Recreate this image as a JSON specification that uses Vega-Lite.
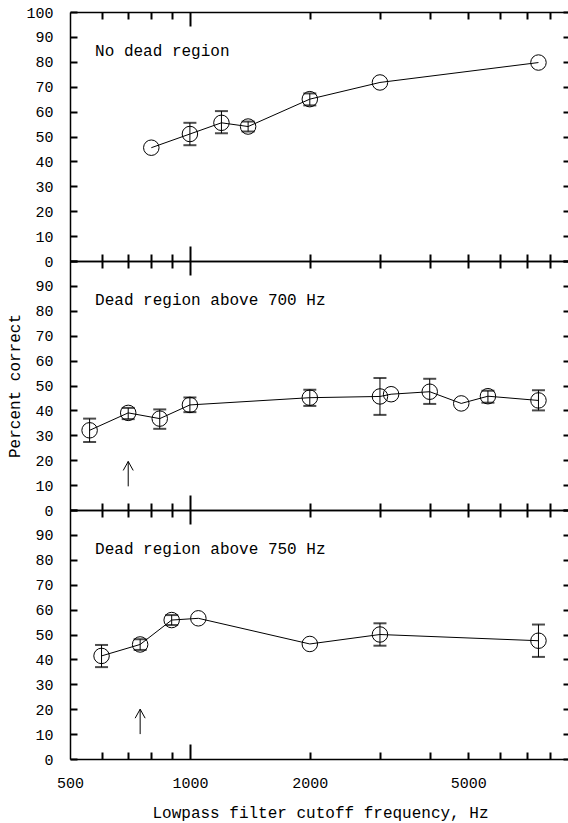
{
  "$schema": "https://vega.github.io/schema/vega-lite/v6.json",
  "background": "white",
  "padding": {"left": 6, "top": 5, "right": 0, "bottom": 5},
  "config": {
    "view": {"stroke": null},
    "font": "Liberation Mono",
    "axis": {"labelFont": "Liberation Mono", "titleFont": "Liberation Mono", "labelColor": "black", "titleColor": "black", "domainColor": "black", "tickColor": "black", "grid": false, "titleFontWeight": "normal"}
  },
  "datasets": {
    "pts": [
      {"panel": 1, "freq": 800, "pc": 45.5},
      {"panel": 1, "freq": 1000, "pc": 51, "lo": 46.5, "hi": 55.5},
      {"panel": 1, "freq": 1200, "pc": 55.5, "lo": 51.3, "hi": 60.2},
      {"panel": 1, "freq": 1400, "pc": 54, "lo": 52, "hi": 56},
      {"panel": 1, "freq": 2000, "pc": 65, "lo": 62.5, "hi": 67.3},
      {"panel": 1, "freq": 3000, "pc": 71.7},
      {"panel": 1, "freq": 7500, "pc": 79.7},
      {"panel": 2, "freq": 560, "pc": 32, "lo": 27.3, "hi": 36.7},
      {"panel": 2, "freq": 700, "pc": 39, "lo": 36.5, "hi": 41},
      {"panel": 2, "freq": 840, "pc": 36.7, "lo": 32.6, "hi": 40.4},
      {"panel": 2, "freq": 1000, "pc": 42.2, "lo": 39.3, "hi": 45.2},
      {"panel": 2, "freq": 2000, "pc": 45.1, "lo": 41.8, "hi": 48.3},
      {"panel": 2, "freq": 3000, "pc": 45.6, "lo": 38.2, "hi": 53},
      {"panel": 2, "freq": 3200, "pc": 46.5},
      {"panel": 2, "freq": 4000, "pc": 47.5, "lo": 42.6, "hi": 52.7},
      {"panel": 2, "freq": 4800, "pc": 42.8},
      {"panel": 2, "freq": 5600, "pc": 45.7, "lo": 43.1, "hi": 47.9},
      {"panel": 2, "freq": 7500, "pc": 44, "lo": 40, "hi": 48.1},
      {"panel": 3, "freq": 600, "pc": 41.4, "lo": 36.9, "hi": 45.8},
      {"panel": 3, "freq": 750, "pc": 46, "lo": 43.8, "hi": 48.1},
      {"panel": 3, "freq": 900, "pc": 55.8, "lo": 53.8, "hi": 57.8},
      {"panel": 3, "freq": 1050, "pc": 56.5},
      {"panel": 3, "freq": 2000, "pc": 46.2},
      {"panel": 3, "freq": 3000, "pc": 50, "lo": 45.5, "hi": 54.5},
      {"panel": 3, "freq": 7500, "pc": 47.5, "lo": 41, "hi": 54}
    ],
    "labels": [
      {"panel": 1, "freq": 578, "pc": 84.3, "text": "No dead region"},
      {"panel": 2, "freq": 578, "pc": 84.2, "text": "Dead region above 700 Hz"},
      {"panel": 3, "freq": 578, "pc": 84.4, "text": "Dead region above 750 Hz"}
    ],
    "arrows": [
      {"panel": 2, "freq": 700, "lo": 9.5, "hi": 19.5},
      {"panel": 3, "freq": 750, "lo": 10, "hi": 20}
    ]
  },
  "vconcat": [
    {
      "width": 500, "height": 249,
      "resolve": {"axis": {"x": "independent", "y": "independent"}},
      "layer": [
        {
          "data": {"name": "pts"},
          "transform": [{"filter": "datum.panel == 1 && isValid(datum.lo)"}],
          "mark": {"type": "rule", "color": "black", "strokeWidth": 1},
          "encoding": {
            "x": {"field": "freq", "type": "quantitative", "scale": {"type": "log", "domain": [500, 9000], "nice": false},
                  "axis": {"orient": "bottom", "values": [600, 700, 800, 900, 1000, 2000, 3000, 4000, 5000, 6000, 7000, 8000], "labels": false, "title": null, "domainWidth": 1.5, "tickWidth": 2, "tickSize": {"condition": {"test": "datum.value == 1000", "value": -15}, "value": -7}}},
            "y": {"field": "lo", "type": "quantitative", "scale": {"domain": [0, 100], "nice": false},
                  "axis": {"orient": "left", "values": [0, 10, 20, 30, 40, 50, 60, 70, 80, 90, 100], "labels": false, "title": null, "domainWidth": 1.5, "tickWidth": 2, "tickSize": -7}},
            "y2": {"field": "hi"}
          }
        },
        {
          "data": {"name": "pts"},
          "transform": [{"filter": "datum.panel == 1 && isValid(datum.lo)"}],
          "mark": {"type": "tick", "orient": "horizontal", "color": "black", "size": 13, "thickness": 2},
          "encoding": {
            "x": {"field": "freq", "type": "quantitative",
                  "axis": {"orient": "top", "values": [600, 700, 800, 900, 1000, 2000, 3000, 4000, 5000, 6000, 7000, 8000], "labels": false, "title": null, "domainWidth": 1.5, "tickWidth": 2, "tickSize": {"condition": {"test": "datum.value == 1000", "value": -14}, "value": -7}}},
            "y": {"field": "lo", "type": "quantitative",
                  "axis": {"orient": "right", "values": [0, 10, 20, 30, 40, 50, 60, 70, 80, 90, 100], "labels": false, "title": null, "domainWidth": 1.5, "tickWidth": 2, "tickSize": -7}}
          }
        },
        {
          "data": {"name": "pts"},
          "transform": [{"filter": "datum.panel == 1 && isValid(datum.hi)"}],
          "mark": {"type": "tick", "orient": "horizontal", "color": "black", "size": 13, "thickness": 2},
          "encoding": {
            "x": {"field": "freq", "type": "quantitative", "axis": null},
            "y": {"field": "hi", "type": "quantitative",
                  "axis": {"orient": "left", "values": [0, 10, 20, 30, 40, 50, 60, 70, 80, 90, 100], "ticks": false, "domain": false, "labelPadding": 17, "labelFontSize": 15, "title": null}}
          }
        },
        {
          "data": {"name": "pts"},
          "transform": [{"filter": "datum.panel == 1"}],
          "mark": {"type": "line", "color": "black", "strokeWidth": 1},
          "encoding": {
            "x": {"field": "freq", "type": "quantitative", "axis": null},
            "y": {"field": "pc", "type": "quantitative", "axis": null}
          }
        },
        {
          "data": {"name": "pts"},
          "transform": [{"filter": "datum.panel == 1"}],
          "mark": {"type": "point", "shape": "circle", "filled": false, "color": "black", "size": 240, "strokeWidth": 1, "opacity": 1},
          "encoding": {
            "x": {"field": "freq", "type": "quantitative", "axis": null},
            "y": {"field": "pc", "type": "quantitative", "axis": null}
          }
        },
        {
          "data": {"name": "labels"},
          "transform": [{"filter": "datum.panel == 1"}],
          "mark": {"type": "text", "align": "left", "baseline": "middle", "fontSize": 16, "font": "Liberation Mono", "color": "black"},
          "encoding": {
            "x": {"field": "freq", "type": "quantitative", "axis": null},
            "y": {"field": "pc", "type": "quantitative", "axis": null},
            "text": {"field": "text"}
          }
        }
      ]
    },
    {
      "width": 500, "height": 249,
      "resolve": {"axis": {"x": "independent", "y": "independent"}},
      "layer": [
        {
          "data": {"name": "pts"},
          "transform": [{"filter": "datum.panel == 2 && isValid(datum.lo)"}],
          "mark": {"type": "rule", "color": "black", "strokeWidth": 1},
          "encoding": {
            "x": {"field": "freq", "type": "quantitative", "scale": {"type": "log", "domain": [500, 9000], "nice": false},
                  "axis": {"orient": "bottom", "values": [600, 700, 800, 900, 1000, 2000, 3000, 4000, 5000, 6000, 7000, 8000], "labels": false, "title": null, "domainWidth": 1.5, "tickWidth": 2, "tickSize": {"condition": {"test": "datum.value == 1000", "value": -15}, "value": -7}}},
            "y": {"field": "lo", "type": "quantitative", "scale": {"domain": [0, 100], "nice": false},
                  "axis": {"orient": "left", "values": [0, 10, 20, 30, 40, 50, 60, 70, 80, 90, 100], "labels": false, "title": null, "domainWidth": 1.5, "tickWidth": 2, "tickSize": -7}},
            "y2": {"field": "hi"}
          }
        },
        {
          "data": {"name": "pts"},
          "transform": [{"filter": "datum.panel == 2 && isValid(datum.lo)"}],
          "mark": {"type": "tick", "orient": "horizontal", "color": "black", "size": 13, "thickness": 2},
          "encoding": {
            "x": {"field": "freq", "type": "quantitative",
                  "axis": {"orient": "top", "values": [600, 700, 800, 900, 1000, 2000, 3000, 4000, 5000, 6000, 7000, 8000], "labels": false, "title": null, "domainWidth": 1.5, "tickWidth": 2, "tickSize": {"condition": {"test": "datum.value == 1000", "value": -14}, "value": -7}}},
            "y": {"field": "lo", "type": "quantitative",
                  "axis": {"orient": "right", "values": [0, 10, 20, 30, 40, 50, 60, 70, 80, 90, 100], "labels": false, "title": null, "domainWidth": 1.5, "tickWidth": 2, "tickSize": -7}}
          }
        },
        {
          "data": {"name": "pts"},
          "transform": [{"filter": "datum.panel == 2 && isValid(datum.hi)"}],
          "mark": {"type": "tick", "orient": "horizontal", "color": "black", "size": 13, "thickness": 2},
          "encoding": {
            "x": {"field": "freq", "type": "quantitative", "axis": null},
            "y": {"field": "hi", "type": "quantitative",
                  "axis": {"orient": "left", "values": [0, 10, 20, 30, 40, 50, 60, 70, 80, 90], "ticks": false, "domain": false, "labelPadding": 17, "labelFontSize": 15, "title": "Percent correct", "titleFontSize": 16, "titlePadding": 12}}
          }
        },
        {
          "data": {"name": "pts"},
          "transform": [{"filter": "datum.panel == 2"}],
          "mark": {"type": "line", "color": "black", "strokeWidth": 1},
          "encoding": {
            "x": {"field": "freq", "type": "quantitative", "axis": null},
            "y": {"field": "pc", "type": "quantitative", "axis": null}
          }
        },
        {
          "data": {"name": "pts"},
          "transform": [{"filter": "datum.panel == 2"}],
          "mark": {"type": "point", "shape": "circle", "filled": false, "color": "black", "size": 240, "strokeWidth": 1, "opacity": 1},
          "encoding": {
            "x": {"field": "freq", "type": "quantitative", "axis": null},
            "y": {"field": "pc", "type": "quantitative", "axis": null}
          }
        },
        {
          "data": {"name": "labels"},
          "transform": [{"filter": "datum.panel == 2"}],
          "mark": {"type": "text", "align": "left", "baseline": "middle", "fontSize": 16, "font": "Liberation Mono", "color": "black"},
          "encoding": {
            "x": {"field": "freq", "type": "quantitative", "axis": null},
            "y": {"field": "pc", "type": "quantitative", "axis": null},
            "text": {"field": "text"}
          }
        },
        {
          "data": {"name": "arrows"},
          "transform": [{"filter": "datum.panel == 2"}],
          "mark": {"type": "rule", "color": "black", "strokeWidth": 1},
          "encoding": {
            "x": {"field": "freq", "type": "quantitative", "axis": null},
            "y": {"field": "lo", "type": "quantitative", "axis": null},
            "y2": {"field": "hi"}
          }
        },
        {
          "data": {"name": "arrows"},
          "transform": [{"filter": "datum.panel == 2"}],
          "mark": {"type": "point", "shape": "M-0.5,0.9L0,0L0.5,0.9", "filled": false, "color": "black", "size": 400, "strokeWidth": 1, "opacity": 1},
          "encoding": {
            "x": {"field": "freq", "type": "quantitative", "axis": null},
            "y": {"field": "hi", "type": "quantitative", "axis": null}
          }
        }
      ]
    },
    {
      "width": 500, "height": 249,
      "resolve": {"axis": {"x": "independent", "y": "independent"}},
      "layer": [
        {
          "data": {"name": "pts"},
          "transform": [{"filter": "datum.panel == 3 && isValid(datum.lo)"}],
          "mark": {"type": "rule", "color": "black", "strokeWidth": 1},
          "encoding": {
            "x": {"field": "freq", "type": "quantitative", "scale": {"type": "log", "domain": [500, 9000], "nice": false},
                  "axis": {"orient": "bottom", "values": [600, 700, 800, 900, 1000, 2000, 3000, 4000, 5000, 6000, 7000, 8000], "labels": false, "title": null, "domainWidth": 1.5, "tickWidth": 2, "tickSize": {"condition": {"test": "datum.value == 1000", "value": -15}, "value": -7}}},
            "y": {"field": "lo", "type": "quantitative", "scale": {"domain": [0, 100], "nice": false},
                  "axis": {"orient": "left", "values": [0, 10, 20, 30, 40, 50, 60, 70, 80, 90, 100], "labels": false, "title": null, "domainWidth": 1.5, "tickWidth": 2, "tickSize": -7}},
            "y2": {"field": "hi"}
          }
        },
        {
          "data": {"name": "pts"},
          "transform": [{"filter": "datum.panel == 3 && isValid(datum.lo)"}],
          "mark": {"type": "tick", "orient": "horizontal", "color": "black", "size": 13, "thickness": 2},
          "encoding": {
            "x": {"field": "freq", "type": "quantitative",
                  "axis": {"orient": "top", "values": [600, 700, 800, 900, 1000, 2000, 3000, 4000, 5000, 6000, 7000, 8000], "labels": false, "title": null, "domainWidth": 1.5, "tickWidth": 2, "tickSize": {"condition": {"test": "datum.value == 1000", "value": -14}, "value": -7}}},
            "y": {"field": "lo", "type": "quantitative",
                  "axis": {"orient": "right", "values": [0, 10, 20, 30, 40, 50, 60, 70, 80, 90, 100], "labels": false, "title": null, "domainWidth": 1.5, "tickWidth": 2, "tickSize": -7}}
          }
        },
        {
          "data": {"name": "pts"},
          "transform": [{"filter": "datum.panel == 3 && isValid(datum.hi)"}],
          "mark": {"type": "tick", "orient": "horizontal", "color": "black", "size": 13, "thickness": 2},
          "encoding": {
            "x": {"field": "freq", "type": "quantitative",
                  "axis": {"orient": "bottom", "values": [500, 1000, 2000, 5000], "format": "d", "ticks": false, "domain": false, "labelPadding": 16, "labelFontSize": 15, "labelFlush": false, "title": "Lowpass filter cutoff frequency, Hz", "titleFontSize": 16, "titlePadding": 14}},
            "y": {"field": "hi", "type": "quantitative",
                  "axis": {"orient": "left", "values": [0, 10, 20, 30, 40, 50, 60, 70, 80, 90], "ticks": false, "domain": false, "labelPadding": 17, "labelFontSize": 15, "title": null}}
          }
        },
        {
          "data": {"name": "pts"},
          "transform": [{"filter": "datum.panel == 3"}],
          "mark": {"type": "line", "color": "black", "strokeWidth": 1},
          "encoding": {
            "x": {"field": "freq", "type": "quantitative", "axis": null},
            "y": {"field": "pc", "type": "quantitative", "axis": null}
          }
        },
        {
          "data": {"name": "pts"},
          "transform": [{"filter": "datum.panel == 3"}],
          "mark": {"type": "point", "shape": "circle", "filled": false, "color": "black", "size": 240, "strokeWidth": 1, "opacity": 1},
          "encoding": {
            "x": {"field": "freq", "type": "quantitative", "axis": null},
            "y": {"field": "pc", "type": "quantitative", "axis": null}
          }
        },
        {
          "data": {"name": "labels"},
          "transform": [{"filter": "datum.panel == 3"}],
          "mark": {"type": "text", "align": "left", "baseline": "middle", "fontSize": 16, "font": "Liberation Mono", "color": "black"},
          "encoding": {
            "x": {"field": "freq", "type": "quantitative", "axis": null},
            "y": {"field": "pc", "type": "quantitative", "axis": null},
            "text": {"field": "text"}
          }
        },
        {
          "data": {"name": "arrows"},
          "transform": [{"filter": "datum.panel == 3"}],
          "mark": {"type": "rule", "color": "black", "strokeWidth": 1},
          "encoding": {
            "x": {"field": "freq", "type": "quantitative", "axis": null},
            "y": {"field": "lo", "type": "quantitative", "axis": null},
            "y2": {"field": "hi"}
          }
        },
        {
          "data": {"name": "arrows"},
          "transform": [{"filter": "datum.panel == 3"}],
          "mark": {"type": "point", "shape": "M-0.5,0.9L0,0L0.5,0.9", "filled": false, "color": "black", "size": 400, "strokeWidth": 1, "opacity": 1},
          "encoding": {
            "x": {"field": "freq", "type": "quantitative", "axis": null},
            "y": {"field": "hi", "type": "quantitative", "axis": null}
          }
        }
      ]
    }
  ],
  "spacing": 0,
  "bounds": "flush"
}
